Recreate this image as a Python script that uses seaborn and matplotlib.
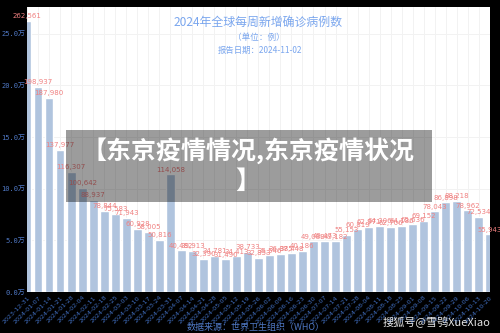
import matplotlib
matplotlib.use("Agg")
import matplotlib.pyplot as plt
import seaborn as sns
import pandas as pd
from matplotlib.patches import Rectangle

weeks = ["2023-12-31", "2024-01-07", "2024-01-14", "2024-01-21", "2024-01-28",
         "2024-02-04", "2024-02-11", "2024-02-18", "2024-02-25", "2024-03-03",
         "2024-03-10", "2024-03-17", "2024-03-24", "2024-03-31", "2024-04-07",
         "2024-04-14", "2024-04-21", "2024-04-28", "2024-05-05", "2024-05-12",
         "2024-05-19", "2024-05-26", "2024-06-02", "2024-06-09", "2024-06-16",
         "2024-06-23", "2024-06-30", "2024-07-07", "2024-07-14", "2024-07-21",
         "2024-07-28", "2024-08-04", "2024-08-11", "2024-08-18", "2024-08-25",
         "2024-09-01", "2024-09-08", "2024-09-15", "2024-09-22", "2024-09-29",
         "2024-10-06", "2024-10-13", "2024-10-20"]
cases = [262561, 198937, 187980, 137977, 116307, 100642, 88937, 78844, 75583, 71943,
         60928, 58005, 50816, 114058, 40482, 39913, 32390, 34781, 31490, 34413,
         38733, 32853, 35546, 36885, 37448, 40186, 49088, 49473, 49182, 55153,
         60819, 62971, 64306, 62706, 64186, 65636, 69152, 78043, 86898, 88218,
         78962, 72534, 55943]
yticks = [0, 50000, 100000, 150000, 200000, 250000]
ytick_labels = ["0.0万", "5.0万", "10.0万", "15.0万", "20.0万", "25.0万"]

title = "2024年全球每周新增确诊病例数"
subtitle = "（单位：例）"
report_date = "报告日期：2024-11-02"
source = "数据来源：世界卫生组织（WHO）"
overlay_text = "【东京疫情情况,东京疫情状况\n】"
watermark = "搜狐号@雪鸮XueXiao"

df = pd.DataFrame({"week": weeks, "cases": cases})

sns.set_theme(style="white")
CJK = ["Noto Sans CJK SC", "DejaVu Sans"]
MONO = ["DejaVu Sans Mono", "Noto Sans CJK SC"]
plt.rcParams["font.family"] = CJK

fig = plt.figure(figsize=(5, 3.33), dpi=100, facecolor="black")
ax = fig.add_axes([0.054, 0.1231, 0.926, 0.856])
ax.set_facecolor("white")

sns.barplot(data=df, x="week", y="cases", color="#b0c4de", saturation=1,
            width=0.77, ax=ax, zorder=2)

ax.set_xlim(-0.02, 42.03)
ax.set_ylim(0, 276000)
ax.set_yticks(yticks)
ax.set_yticklabels(ytick_labels, family=MONO, fontsize=5, color="#4f78c4")
ax.set_xticks(range(len(weeks)))
ax.set_xticklabels(weeks, rotation=45, ha="right", rotation_mode="anchor",
                   fontsize=4.6, color="#3f6cbc", family=["DejaVu Sans"])
ax.tick_params(axis="y", length=0, pad=1)
ax.tick_params(axis="x", length=0, pad=2)
ax.set_xlabel("")
ax.set_ylabel("")
for s in ax.spines.values():
    s.set_visible(False)
ax.grid(True, color="#f2f2f2", linewidth=0.7, zorder=0)
ax.set_axisbelow(True)

for cont in ax.containers:
    ax.bar_label(cont, labels=[f"{v:,}" for v in cases], padding=1.2,
                 fontsize=5, color="#f08080", family=["DejaVu Sans"])

fig.text(0.517, 0.934, title, ha="center", va="center", fontsize=8.6, color="#7aa6ee")
fig.text(0.517, 0.889, subtitle, ha="center", va="center", fontsize=6.2, color="#7aa6ee")
fig.text(0.52, 0.85, report_date, ha="center", va="center", fontsize=6, color="#7aa6ee")
fig.text(0.512, 0.016, source, ha="center", va="center", fontsize=6.5, color="#4f78c4")
fig.text(0.874, 0.033, watermark, ha="center", va="center", fontsize=8, color="#e6e6e6")

fig.patches.append(Rectangle((0.132, 0.3934), 0.732, 0.216, transform=fig.transFigure,
                             facecolor="black", alpha=0.39, edgecolor="none", zorder=5))
fig.text(0.495, 0.503, overlay_text, ha="center", va="center", fontsize=18,
         fontweight="bold", color="white", linespacing=1.3, zorder=6)

fig.savefig("out.png", dpi=100, facecolor="black")
